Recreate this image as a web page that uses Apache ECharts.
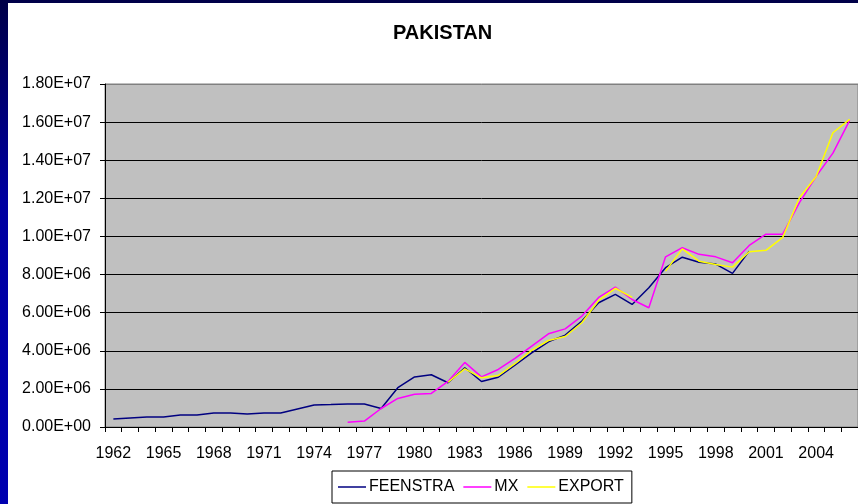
<!DOCTYPE html>
<html>
<head>
<meta charset="utf-8">
<title>PAKISTAN</title>
<script src="https://cdn.jsdelivr.net/npm/echarts@6/dist/echarts.min.js"></script>
<style>
  html, body { margin: 0; padding: 0; width: 858px; height: 504px; overflow: hidden; }
  body { background: linear-gradient(to bottom, #000048 0%, #0000a0 40%, #0000b0 100%); position: relative; }
  #chart { position: absolute; left: 8px; top: 3px; width: 850px; height: 501px; background: #ffffff; }
</style>
</head>
<body>
<div id="chart"></div>
<script>
// years on the category axis
var years = [];
for (var y = 1962; y <= 2006; y++) years.push(String(y));

// values in millions (1.0 = 1.00E+06), null = no data
var feenstra = [0.42, 0.47, 0.52, 0.53, 0.63, 0.63, 0.74, 0.74, 0.68, 0.74,
                0.74, 0.95, 1.16, 1.18, 1.21, 1.21, 0.97, 2.06, 2.63, 2.74,
                2.32, 3.11, 2.39, 2.61, 3.25, 3.89, 4.47, 4.82, 5.56, 6.52,
                6.96, 6.43, 7.31, 8.36, 8.91, 8.65, 8.55, 8.06, 9.23, null,
                null, null, null, null, null];
var mx = [null, null, null, null, null, null, null, null, null, null,
          null, null, null, null, 0.25, 0.31, 0.97, 1.50, 1.72, 1.76,
          2.39, 3.39, 2.63, 3.02, 3.60, 4.24, 4.89, 5.15, 5.82, 6.80,
          7.34, 6.69, 6.26, 8.93, 9.41, 9.06, 8.93, 8.62, 9.53, 10.12,
          10.12, 11.77, 13.15, 14.37, 16.09];
var exportVals = [null, null, null, null, null, null, null, null, null, null,
                  null, null, null, null, null, null, null, null, null, null,
                  2.35, 3.05, 2.58, 2.70, 3.32, 4.02, 4.54, 4.75, 5.47, 6.64,
                  7.28, 6.80, null, 8.18, 9.35, 8.70, 8.53, 8.39, 9.20, 9.27,
                  9.95, 12.03, 13.15, 15.44, 16.14];

var yMax = 1.8e7;
var yStep = 2e6;

function toRaw(arr) {
  return arr.map(function (v) { return v === null ? null : v * 1e6; });
}

function sciLabel(v) {
  if (v === 0) return '0.00E+00';
  var e = Math.floor(Math.log10(v) + 1e-9);
  var m = v / Math.pow(10, e);
  return m.toFixed(2) + 'E+' + (e < 10 ? '0' : '') + e;
}

var font = "'Liberation Sans', Arial, sans-serif";

// gridlines black, top edge of the plot gray like the frame
var splitColors = [];
for (var i = 0; i < yMax / yStep; i++) splitColors.push('#000000');
splitColors.push('#808080');

var chart = echarts.init(document.getElementById('chart'));
chart.setOption({
  animation: false,
  textStyle: { fontFamily: font },
  title: {
    text: 'PAKISTAN',
    left: 380,
    top: 15,
    textStyle: { fontFamily: font, fontSize: 20, fontWeight: 'bold', color: '#000' }
  },
  legend: {
    bottom: 1,
    left: 324,
    backgroundColor: '#ffffff',
    borderColor: '#000000',
    borderWidth: 1,
    padding: [8, 8, 8, 6],
    icon: 'rect',
    itemWidth: 28,
    itemHeight: 1.5,
    itemGap: 9,
    textStyle: { fontFamily: font, fontSize: 16, color: '#000', padding: [0, 0, 0, -2] },
    data: ['FEENSTRA', 'MX', 'EXPORT']
  },
  grid: {
    left: 97,
    top: 81,
    width: 753,
    height: 343,
    show: true,
    backgroundColor: '#c0c0c0',
    borderColor: '#808080',
    borderWidth: 1
  },
  xAxis: {
    type: 'category',
    data: years,
    boundaryGap: true,
    axisLine: { lineStyle: { color: '#000', width: 1 } },
    axisTick: { show: true, interval: 0, length: 5, lineStyle: { color: '#000' } },
    axisLabel: { interval: 2, margin: 19, fontSize: 16, color: '#000', fontFamily: font },
    splitLine: { show: false }
  },
  yAxis: {
    type: 'value',
    min: 0,
    max: yMax,
    interval: yStep,
    axisLine: { show: true, lineStyle: { color: '#000', width: 1 } },
    axisTick: { show: true, length: 5, lineStyle: { color: '#000' } },
    axisLabel: { margin: 14, fontSize: 16, color: '#000', fontFamily: font, formatter: sciLabel },
    splitLine: { show: true, lineStyle: { color: splitColors, width: 1 } }
  },
  series: [
    {
      name: 'FEENSTRA',
      type: 'line',
      data: toRaw(feenstra),
      symbol: 'none',
      connectNulls: false,
      color: '#000080',
      lineStyle: { color: '#000080', width: 1.5 }
    },
    {
      name: 'MX',
      type: 'line',
      data: toRaw(mx),
      symbol: 'none',
      connectNulls: false,
      color: '#ff00ff',
      lineStyle: { color: '#ff00ff', width: 1.5 }
    },
    {
      name: 'EXPORT',
      type: 'line',
      data: toRaw(exportVals),
      symbol: 'none',
      connectNulls: false,
      color: '#ffff00',
      lineStyle: { color: '#ffff00', width: 1.5 }
    }
  ]
});
</script>
</body>
</html>
